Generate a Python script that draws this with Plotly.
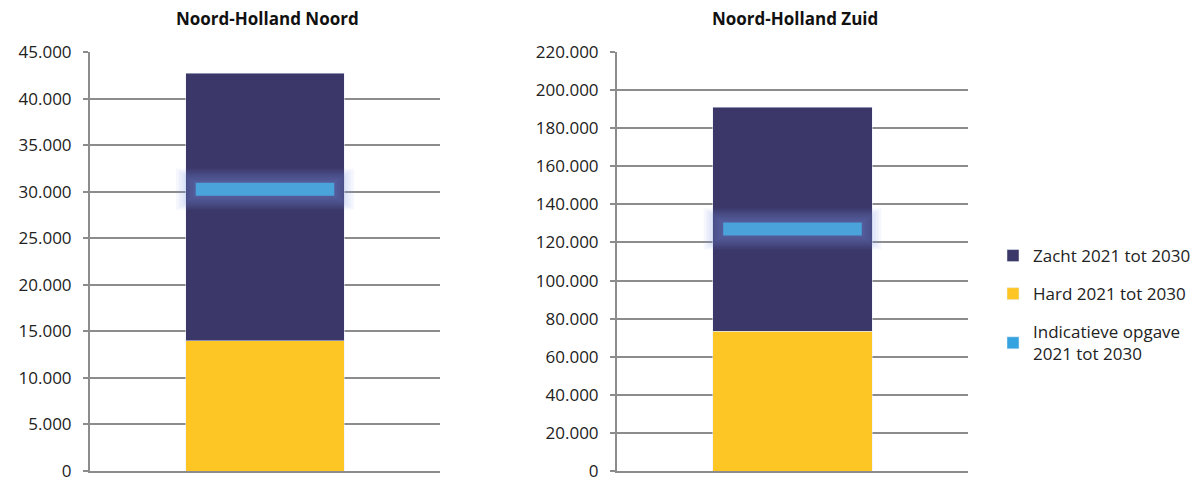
import plotly.graph_objects as go

regions = ["Noord-Holland Noord", "Noord-Holland Zuid"]
hard = [14000, 73500]
zacht = [28700, 117500]   # stacked on top of hard
indicatief = [30250, 127000]
y_max = [45000, 220000]
y_step = [5000, 20000]

series_names = ["Zacht 2021 tot 2030", "Hard 2021 tot 2030", "Indicatieve opgave<br>2021 tot 2030"]

DARK = "#3B3768"
YELLOW = "#FDC624"
LIGHT = "#4AA3DB"
GRID = "#8C8C8C"
FONT = "Open Sans, Lato, sans-serif"

W, H = 1204, 479
OFF = 8  # page body margin


def px(x):
    return (x - OFF) / W


def py(y):
    return 1 - (y - OFF) / H


fig = go.Figure()

for i, region in enumerate(regions):
    xa = "x" if i == 0 else "x2"
    ya = "y" if i == 0 else "y2"
    fig.add_trace(go.Bar(
        x=[region], y=[hard[i]], name=series_names[1], marker_color=YELLOW,
        width=0.454, xaxis=xa, yaxis=ya, showlegend=(i == 0), legendrank=2,
        legendgroup="hard",
    ))
    fig.add_trace(go.Bar(
        x=[region], y=[zacht[i]], name=series_names[0], marker_color=DARK,
        width=0.454, xaxis=xa, yaxis=ya, showlegend=(i == 0), legendrank=1,
        legendgroup="zacht",
    ))
    # soft glow around the indicator line
    for k in range(7, 0, -1):
        fig.add_trace(go.Scatter(
            x=[region], y=[indicatief[i]], mode="markers", xaxis=xa, yaxis=ya,
            showlegend=False, hoverinfo="skip", legendgroup="ind",
            marker=dict(symbol="line-ew", size=99 + 4 * k, color="rgba(0,0,0,0)",
                        line=dict(width=13 + 4 * k, color="rgba(120,150,230,0.075)")),
        ))
    fig.add_trace(go.Scatter(
        x=[region], y=[indicatief[i]], mode="markers", xaxis=xa, yaxis=ya,
        showlegend=False, legendgroup="ind",
        marker=dict(symbol="line-ew", size=99, color=LIGHT,
                    line=dict(width=13, color=LIGHT)),
    ))

# legend-only swatch for the indicator
fig.add_trace(go.Bar(x=[regions[0]], y=[None], name=series_names[2],
                     marker_color="#35A3E0", legendrank=3, legendgroup="ind"))

axis_y = dict(
    showgrid=True, gridcolor=GRID, gridwidth=2,
    showline=True, linecolor=GRID, linewidth=2,
    ticks="outside", ticklen=5, tickcolor=GRID, tickwidth=2,
    ticklabelstandoff=8,
    tickformat=",d", tickfont=dict(size=17, color="#222222"),
    zeroline=False,
)
axis_x = dict(showticklabels=False, showline=True, linecolor=GRID, linewidth=2,
              ticks="", showgrid=False, fixedrange=True)

y_dom = [py(471), py(52)]

fig.update_layout(
    width=W, height=H,
    paper_bgcolor="white", plot_bgcolor="white",
    font=dict(family=FONT, color="#222222"),
    separators=",.",
    barmode="stack",
    margin=dict(l=0, r=0, t=0, b=0, autoexpand=False),
    xaxis=dict(domain=[px(90), px(440)], **axis_x),
    xaxis2=dict(domain=[px(617), px(968)], anchor="y2", **axis_x),
    yaxis=dict(domain=y_dom, range=[0, y_max[0]], dtick=y_step[0], **axis_y),
    yaxis2=dict(domain=y_dom, range=[0, y_max[1]], dtick=y_step[1],
                anchor="x2", **axis_y),
    legend=dict(x=px(993), y=py(238), xanchor="left", yanchor="top",
                font=dict(size=17, color="#222222"), tracegroupgap=13,
                traceorder="grouped", itemclick=False),
    annotations=[
        dict(text="<b>%s</b>" % regions[0], x=px(267), y=py(18), xref="paper", yref="paper",
             xanchor="center", yanchor="middle", showarrow=False,
             font=dict(size=17, color="#111111")),
        dict(text="<b>%s</b>" % regions[1], x=px(795), y=py(18), xref="paper", yref="paper",
             xanchor="center", yanchor="middle", showarrow=False,
             font=dict(size=17, color="#111111")),
    ],
)

fig.write_html("out.html")
